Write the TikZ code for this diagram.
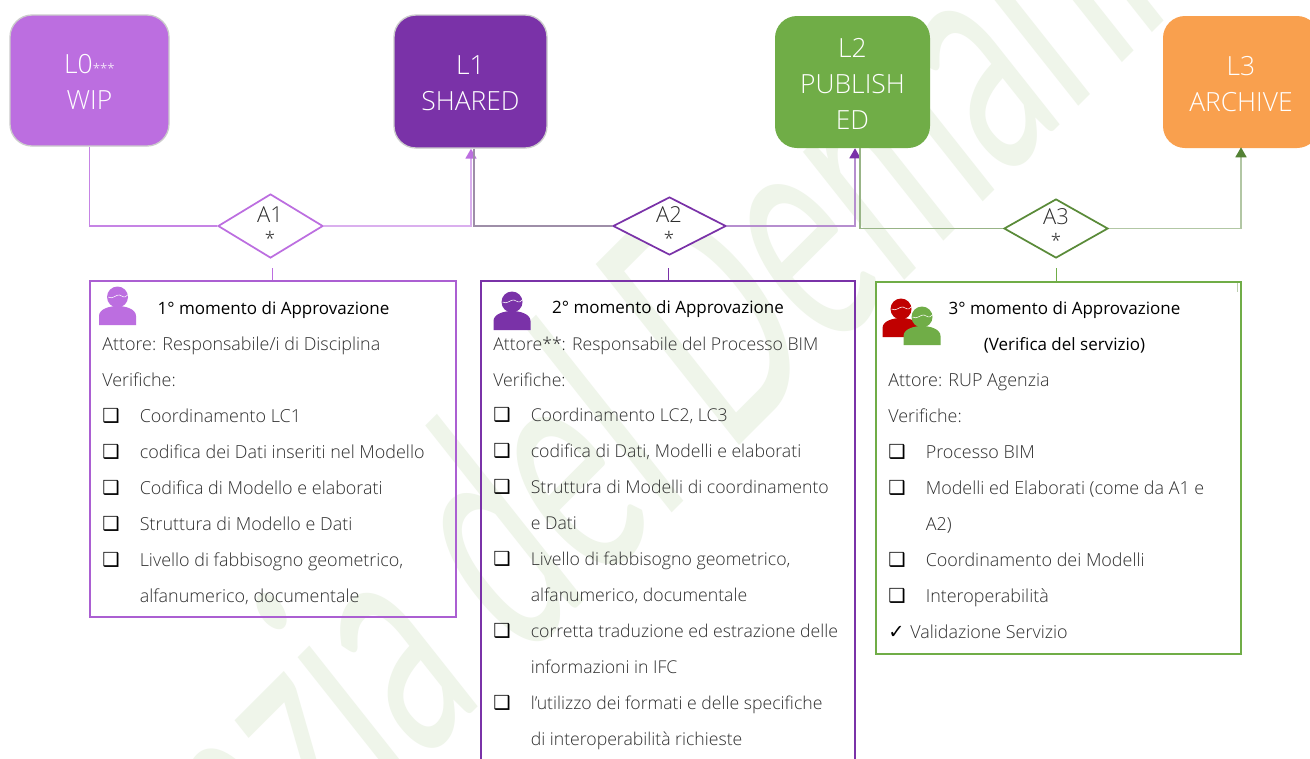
\documentclass[tikz,border=0pt]{standalone}
\usepackage{fontspec}
\setmainfont{Open Sans}[UprightFont=* Light,BoldFont=*]
\newfontfamily\titlefont{Open Sans}
\newfontfamily\dv{DejaVu Sans}
\newfontfamily\wm{Lato}[FakeSlant=0.2]
\usetikzlibrary{shapes.geometric,arrows.meta,calc}
\definecolor{lzero}{HTML}{BC6EE0}
\definecolor{lone}{HTML}{7A32A8}
\definecolor{ltwo}{HTML}{70AD47}
\definecolor{lthree}{HTML}{F9A04E}
\definecolor{dgreen}{HTML}{548235}
\definecolor{redp}{HTML}{C00000}
\definecolor{wmark}{HTML}{EFF5EA}
\definecolor{body}{HTML}{2E2E2E}
\newcommand{\lvstrut}{\rule{0pt}{16.8pt}}
\tikzset{
  level/.style={rounded corners=22*0.75pt,minimum width=#1,align=center,text=white,font=\fontsize{19.8pt}{27pt}\selectfont,inner sep=0pt},
  dia/.style={diamond,draw=#1,line width=1.3pt,fill=white,inner sep=0pt,aspect=1.7},
  dlabel/.style={font=\fontsize{16.5pt}{16.5pt}\selectfont,text=body,inner sep=0pt},
  star/.style={font=\fontsize{14pt}{14pt}\selectfont,text=body,inner sep=0pt},
  panel/.style={draw=#1,line width=1.3pt,fill=none,rectangle,inner sep=0pt},
  row/.style={anchor=base west,inner sep=0pt,text=body,font=\fontsize{13.45pt}{15pt}\selectfont},
  rowb/.style={anchor=base west,inner sep=0pt,text=body,font=\fontsize{13.25pt}{15pt}\selectfont},
  ttl/.style={anchor=base,inner sep=0pt,text=black,font=\titlefont\fontsize{12.75pt}{15pt}\selectfont},
  chk/.style={anchor=base west,inner sep=0pt,text=black,font=\dv\bfseries\fontsize{14.5pt}{15pt}\selectfont},
  conn/.style={draw=#1,line width=1.2pt},
  tip/.style={-{Triangle[width=11*0.75pt,length=10*0.75pt,color=#1]}},
  person/.pic={
    \fill[#1] (0,-7) circle[radius=10.5];
    \fill[#1] (-18.5,21) -- (-18.5,12) .. controls (-18.5,5) and (-8,2) .. (0,2) .. controls (8,2) and (18.5,5) .. (18.5,12) -- (18.5,21) -- cycle;
    \draw[white,line width=0.4pt] (-9.5,-7) .. controls (-5,-4) and (-1,-10) .. (2,-9) .. controls (5,-8) and (7,-5) .. (10,-9);
  }
}
\begin{document}
\begin{tikzpicture}[x=0.75pt,y=-0.75pt]
\useasboundingbox (0,0) rectangle (1310,758);
\clip (0,0) rectangle (1310,758);
\fill[white] (0,0) rectangle (1310,758);
% watermark
\node[rotate=45,anchor=base,inner sep=0pt,text=wmark,font=\wm\fontsize{240pt}{240pt}\selectfont] (wmk) at (640,545) {\scalebox{0.58}[1]{Agenzia del Demanio}};
% level boxes
\node[level=159*0.75pt,minimum height=131*0.75pt,fill=lzero,draw=black!20,line width=1pt] (l0) at (89.5,80.5) {\lvstrut L0{\fontsize{10pt}{10pt}\selectfont ***}\\WIP};
\node[level=153*0.75pt,minimum height=133*0.75pt,fill=lone,draw=black!20,line width=1pt] (l1) at (470.5,81.5) {\lvstrut L1\\SHARED};
\node[level=155*0.75pt,minimum height=132*0.75pt,fill=ltwo] (l2) at (852.5,82) {\lvstrut L2\\PUBLISH\\ED};
\node[level=156*0.75pt,minimum height=132*0.75pt,fill=lthree] (l3) at (1241,82) {\lvstrut L3\\ARCHIVE};
% diamonds
\node[dia=lzero,minimum width=105*0.75pt,minimum height=64*0.75pt] (a1) at (270.5,226) {};
\node[dia=lone,minimum width=113*0.75pt,minimum height=58*0.75pt] (a2) at (669.5,226) {};
\node[dia=dgreen!80!ltwo,minimum width=104*0.75pt,minimum height=59*0.75pt] (a3) at (1056,228.5) {};
\node[dlabel] (a1t) at (270,215) {A1};
\node[star] (a1s) at (270,238) {*};
\node[dlabel] (a2t) at (669,215) {A2};
\node[star] (a2s) at (669,238) {*};
\node[dlabel] (a3t) at (1056,217) {A3};
\node[star] (a3s) at (1056,240) {*};
% connectors
\draw[conn=lzero!85] (l0.south) |- (a1.west);
\draw[conn=lzero!55,tip=lzero] (a1.east) -| ([xshift=0.5*0.75pt]l1.south);
\draw[conn=lone!30!gray!75] ([xshift=3.5*0.75pt]l1.south) |- (a2.west);
\draw[conn=lone!55,tip=lone] (a2.east) -| ([xshift=2.5*0.75pt]l2.south);
\draw[conn=dgreen!60] ([xshift=7.5*0.75pt]l2.south) |- (a3.west);
\draw[conn=dgreen!45,tip=dgreen] (a3.east) -| ([yshift=1*0.75pt]l3.south);
% panels
\node[panel=lzero!75!lone,minimum width=366*0.75pt,minimum height=336*0.75pt] (p1) at (273,449) {};
\node[panel=lone,minimum width=374*0.75pt,minimum height=500*0.75pt] (p2) at (668,531) {};
\node[panel=ltwo,minimum width=365*0.75pt,minimum height=372*0.75pt] (p3) at (1058.5,468) {};
% stubs
\coordinate (s1) at (272,268);
\coordinate (s2) at (668,268);
\coordinate (s3) at (1056,268);
\draw[lzero,line width=0.5pt] (s1) -- (s1 |- p1.north);
\draw[lone,line width=0.5pt] (s2) -- (s2 |- p2.north);
\draw[ltwo,line width=0.5pt] (s3) -- (s3 |- p3.north);
\coordinate (tk) at (1237,283);
\draw[dgreen!40,line width=0.6pt] (tk) -- +(0,9);
% people
\pic at (117.5,304) {person=lzero};
\pic at (512,309) {person=lone};
\pic at (901,316) {person=redp};
\pic at (922,324) {person=ltwo};
% panel 1
\node[ttl] (t1) at (273.5,314) {1° momento di Approvazione};
\node[row] (r11) at (102,350) {Attore: Responsabile/i di Disciplina};
\node[row] (r12) at (102,386) {Verifiche:};
\node[chk] (c11) at (102,422) {❑};
\node[row] (r13) at (139.5,422) {Coordinamento LC1};
\node[chk] (c12) at (102,458) {❑};
\node[row] (r14) at (139.5,458) {codifica dei Dati inseriti nel Modello};
\node[chk] (c13) at (102,494) {❑};
\node[row] (r15) at (139.5,494) {Codifica di Modello e elaborati};
\node[chk] (c14) at (102,530) {❑};
\node[row] (r16) at (139.5,530) {Struttura di Modello e Dati};
\node[chk] (c15) at (102,566) {❑};
\node[row] (r17) at (139.5,566) {Livello di fabbisogno geometrico,};
\node[row] (r18) at (139.5,602) {alfanumerico, documentale};
% panel 2
\node[ttl] (t2) at (668,313.5) {2° momento di Approvazione};
\node[rowb] (r21) at (493,350) {Attore**: Responsabile del Processo BIM};
\node[rowb] (r22) at (493,386) {Verifiche:};
\node[chk] (c21) at (493,421) {❑};
\node[rowb] (r23) at (530.5,421) {Coordinamento LC2, LC3};
\node[chk] (c22) at (493,457) {❑};
\node[rowb] (r24) at (530.5,457) {codifica di Dati, Modelli e elaborati};
\node[chk] (c23) at (493,493) {❑};
\node[rowb] (r25) at (530.5,493) {Struttura di Modelli di coordinamento};
\node[rowb] (r26) at (530.5,529) {e Dati};
\node[chk] (c24) at (493,565) {❑};
\node[rowb] (r27) at (530.5,565) {Livello di fabbisogno geometrico,};
\node[rowb] (r28) at (530.5,601) {alfanumerico, documentale};
\node[chk] (c25) at (493,637) {❑};
\node[rowb] (r29) at (530.5,637) {corretta traduzione ed estrazione delle};
\node[rowb] (r210) at (530.5,673) {informazioni in IFC};
\node[chk] (c26) at (493,709) {❑};
\node[rowb] (r211) at (530.5,709) {l’utilizzo dei formati e delle specifiche};
\node[rowb] (r212) at (530.5,745) {di interoperabilità richieste};
% panel 3
\node[ttl] (t3) at (1064.5,314) {3° momento di Approvazione};
\node[ttl] (t32) at (1064.5,350) {(Verifica del servizio)};
\node[row] (r31) at (888,386) {Attore: RUP Agenzia};
\node[row] (r32) at (888,422) {Verifiche:};
\node[chk] (c31) at (888,458) {❑};
\node[row] (r33) at (925.5,458) {Processo BIM};
\node[chk] (c32) at (888,494) {❑};
\node[row] (r34) at (925.5,494) {Modelli ed Elaborati (come da A1 e};
\node[row] (r35) at (925.5,530) {A2)};
\node[chk] (c33) at (888,566) {❑};
\node[row] (r36) at (925.5,566) {Coordinamento dei Modelli};
\node[chk] (c34) at (888,602) {❑};
\node[row] (r37) at (925.5,602) {Interoperabilità};
\node[chk] (c35) at (888,638) {✓};
\node[row] (r38) at (910,638) {Validazione Servizio};
\end{tikzpicture}
\end{document}
